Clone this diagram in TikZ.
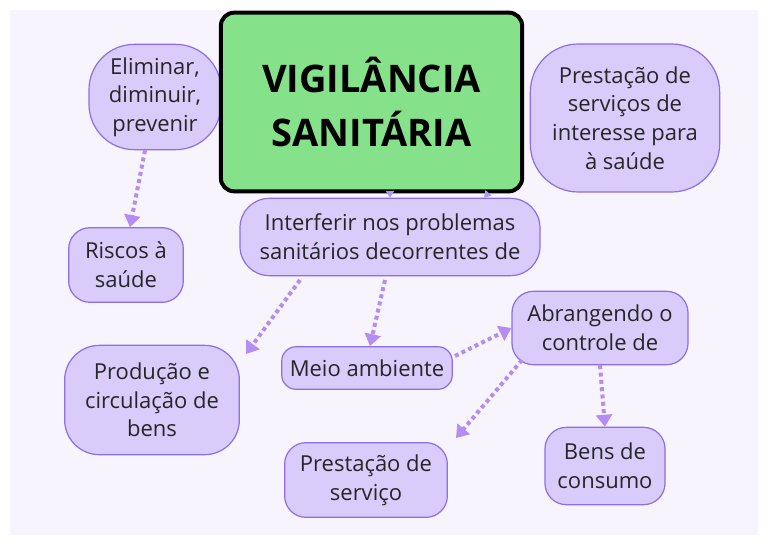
\documentclass[tikz,border=0pt]{standalone}
\usepackage{fontspec}
\setmainfont{Open Sans}
\usetikzlibrary{arrows.meta}
\definecolor{bub}{HTML}{D9CCFA}
\definecolor{bubd}{HTML}{8C6EE6}
\definecolor{conn}{HTML}{B58CF2}
\definecolor{bg}{HTML}{F8F4FD}
\definecolor{grn}{HTML}{86E28A}
\tikzset{
 bubble/.style={draw=bubd,fill=bub,line width=0.9pt,rounded corners=16pt,align=center,font=\fontsize{16.5}{21.5}\selectfont,text=black!85,inner sep=2pt},
 link/.style={draw=conn,line width=3pt,dash pattern=on 3pt off 2.5pt,-{Triangle[length=9pt,width=12pt]}},
 thinarr/.style={draw=bubd!70,line width=0.8pt,-{Triangle[length=5pt,width=6pt]}}
}
\begin{document}
\begin{tikzpicture}[x=0.75pt,y=-0.75pt]
\useasboundingbox (0,0) rectangle (768,543);
\fill[white] (0,0) rectangle (768,543);
\fill[bg] (10,10) rectangle (758,535);
\coordinate (c1) at (300,280);
\coordinate (c2) at (385,280);
\coordinate (c3) at (455,356);
\coordinate (c4) at (522,360);
\node[bubble,minimum width=99pt,minimum height=79pt,rounded corners=34pt] (elim) at (155,97) {Eliminar,\\diminuir,\\prevenir};
\node[bubble,minimum width=142pt,minimum height=111pt,rounded corners=36pt] (pint) at (625,118) {Prestação de\\serviços de\\interesse para\\à saúde};
\node[bubble,minimum width=225pt,minimum height=58pt,rounded corners=22pt] (intf) at (390,237) {Interferir nos problemas\\sanitários decorrentes de};
\node[draw=black,fill=grn,line width=3pt,rounded corners=10pt,minimum width=226pt,minimum height=134pt,align=center,font=\fontsize{28.5}{40}\selectfont\bfseries] (main) at (371.5,102) {VIGILÂNCIA\\SANITÁRIA};
\node[bubble,minimum width=86pt,minimum height=56pt] (risc) at (126,265) {Riscos à\\saúde};
\node[bubble,minimum width=131pt,minimum height=82pt,rounded corners=26pt] (prod) at (152,400) {Produção e\\circulação de\\bens};
\node[bubble,minimum width=128pt,minimum height=32pt,rounded corners=11pt] (meio) at (367,368) {Meio ambiente};
\node[bubble,minimum width=132pt,minimum height=55pt] (abr) at (600,328) {Abrangendo o\\controle de};
\node[bubble,minimum width=122pt,minimum height=56pt] (pserv) at (366,480) {Prestação de\\serviço};
\node[bubble,minimum width=90pt,minimum height=58pt] (bens) at (605,466) {Bens de\\consumo};
\draw[thinarr] (main.south -| 390,0) -- (intf.north -| 390,0);
\draw[thinarr] (main.south -| 488,0) -- (intf.north -| 484,0);
\draw[link] (elim.south -| 145,0) -- (risc.north -| 130,0);
\draw[link] (c1) -- (246,354);
\draw[link] (c2) -- (meio.north -| 370,0);
\draw[link] (c3) -- (abr.west);
\draw[link] (c4) -- (456,438);
\draw[link] (abr.south -| 600,0) -- (bens.north -| 605,0);
\end{tikzpicture}
\end{document}
